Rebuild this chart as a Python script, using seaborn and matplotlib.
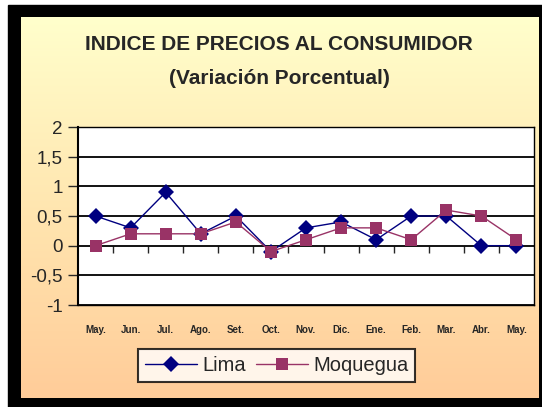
import numpy as np
import pandas as pd
import seaborn as sns
import matplotlib
matplotlib.use("Agg")
import matplotlib.pyplot as plt
from matplotlib.colors import LinearSegmentedColormap
from matplotlib.ticker import FuncFormatter

meses = ["May.", "Jun.", "Jul.", "Ago.", "Set.", "Oct.", "Nov.", "Dic.",
         "Ene.", "Feb.", "Mar.", "Abr.", "May."]
lima = [0.5, 0.3, 0.9, 0.2, 0.5, -0.1, 0.3, 0.4, 0.1, 0.5, 0.5, 0.0, 0.0]
moquegua = [0.0, 0.2, 0.2, 0.2, 0.4, -0.1, 0.1, 0.3, 0.3, 0.1, 0.6, 0.5, 0.1]

df = pd.DataFrame({
    "pos": list(range(len(meses))) * 2,
    "valor": lima + moquegua,
    "serie": ["Lima"] * len(lima) + ["Moquegua"] * len(moquegua),
})

sns.set_style("white")
plt.rcParams["font.family"] = ["Liberation Sans", "DejaVu Sans"]

W, H = 542, 407
fig = plt.figure(figsize=(W / 100, H / 100), dpi=100)
fig.patch.set_facecolor("white")

# background: black frame + yellow->peach gradient
bg = fig.add_axes([0, 0, 1, 1], zorder=-1)
bg.set_xlim(0, W)
bg.set_ylim(H, 0)
bg.axis("off")
bg.add_patch(plt.Rectangle((8, 5), W - 8, H - 5, color="black"))
grad = LinearSegmentedColormap.from_list("g", ["#FFFFCC", "#FFE6B0", "#FFCC99"])
bg.imshow(np.linspace(0, 1, 256).reshape(-1, 1), cmap=grad, aspect="auto",
          extent=(21, 539, 398, 17), zorder=1)
bg.set_xlim(0, W)
bg.set_ylim(H, 0)

ax = fig.add_axes([78 / W, 1 - 305 / H, (534 - 78) / W, (305 - 127) / H])
ax.set_facecolor("white")

sns.lineplot(data=df, x="pos", y="valor", hue="serie", style="serie",
             palette={"Lima": "#000080", "Moquegua": "#993366"},
             markers={"Lima": "D", "Moquegua": "s"}, dashes=False,
             markersize=8, linewidth=1, markeredgewidth=0, ax=ax)

ax.set_xlim(-0.5, len(meses) - 0.5)
ax.set_ylim(-1, 2)
ax.set_yticks(np.arange(-1, 2.01, 0.5))
ax.yaxis.set_major_formatter(FuncFormatter(lambda v, p: ("%g" % v).replace(".", ",")))
ax.yaxis.grid(True, color="black", linewidth=1.3)
ax.tick_params(axis="y", left=True, direction="out", length=7, width=1,
               labelsize=13.5, pad=4)
ax.set_xticks(range(len(meses)))
ax.set_xticklabels(meses, fontsize=7, fontweight="bold")
ax.tick_params(axis="x", bottom=False, pad=11)
ax.set_xlabel("")
ax.set_ylabel("")
for s in ax.spines.values():
    s.set_color("black")
    s.set_linewidth(1)
ax.spines["left"].set_linewidth(1.5)

# category separators on the zero line
sec = ax.secondary_xaxis(1 / 3)
sec.set_xticks(np.arange(0.5, len(meses) - 0.5, 1))
sec.set_xticklabels([])
sec.tick_params(direction="out", length=5, width=1)
sec.spines["bottom"].set_visible(False)

leg = ax.legend(loc="center", bbox_to_anchor=(276.5 / W, 1 - 365.5 / H),
                bbox_transform=fig.transFigure, ncol=2, frameon=True,
                fontsize=14.5, handlelength=2.6, columnspacing=0.5,
                handletextpad=0.25, borderpad=0.35, fancybox=False)
leg.get_frame().set_edgecolor("black")
leg.get_frame().set_linewidth(1.5)
leg.get_frame().set_facecolor("white")

fig.text(279 / W, 1 - 44 / H, "INDICE DE PRECIOS AL CONSUMIDOR", ha="center",
         va="center", fontsize=15, fontweight="bold")
fig.text(279 / W, 1 - 78 / H, "(Variación Porcentual)", ha="center",
         va="center", fontsize=15, fontweight="bold")

fig.savefig("out.png", dpi=100, facecolor=fig.get_facecolor())
